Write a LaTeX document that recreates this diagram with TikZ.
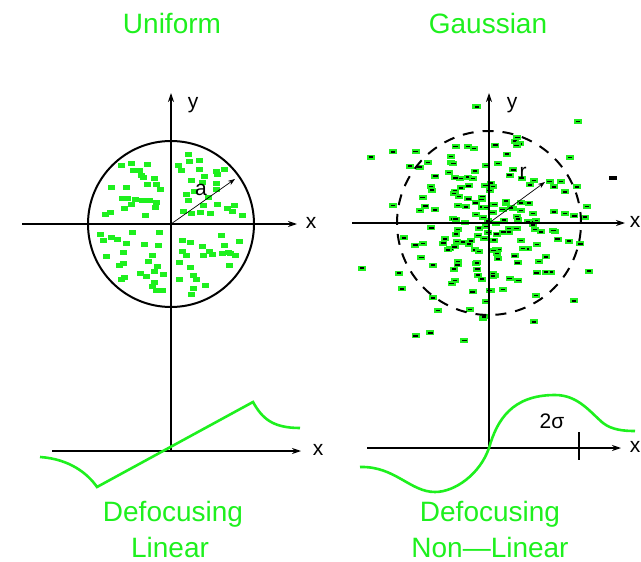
\documentclass[tikz,border=0pt]{standalone}
\usepackage{fontspec}
\setmainfont{Liberation Sans}
\usetikzlibrary{arrows.meta}

\begin{document}
\begin{tikzpicture}[x=1pt, y=-1pt,
    axis/.style={line width=1.1pt, -{Stealth[length=9pt,width=6pt]}},
    radius/.style={line width=0.7pt, -{Stealth[length=7pt,width=5pt]}},
    rim/.style={line width=2pt},
    greencurve/.style={line width=2.6pt, draw=greenColour},
    lbl/.style={font=\fontsize{21}{24}\selectfont},
    ttl/.style={font=\fontsize{28}{32}\selectfont, text=greenColour, anchor=base}]

    \definecolor{greenColour}{HTML}{1EF01E}

    % Fix the page size
    \useasboundingbox (0,0) rectangle (641,562);

    % Define origins
    \coordinate (uo) at (171,224);
    \coordinate (go) at (489,223);

    % Uniform beam particles (kept off the axes)
    \pgfmathsetseed{1234}
    \foreach \i in {1,...,104}{
        \pgfmathsetmacro{\rad}{74*sqrt((\i-0.5)/104)*(0.92+0.08*rnd)}
        \pgfmathsetmacro{\ang}{mod(\i*13.7508,36)*10+40*rnd}
        \pgfmathsetmacro{\dx}{\rad*cos(\ang)}
        \pgfmathsetmacro{\dy}{\rad*sin(\ang)}
        \pgfmathsetmacro{\px}{171+(\dx<0?-1:1)*(7+0.93*abs(\dx))}
        \pgfmathsetmacro{\py}{224+(\dy<0?-1:1)*(7+0.93*abs(\dy))}
        \fill[greenColour] (\px-3.5,\py-2.5) rectangle ++(7,5);
    }

    % Gaussian beam particles
    \pgfmathsetseed{98765}
    \foreach \i in {1,...,185}{
        \pgfmathsetmacro{\rad}{min(135,46*sqrt(-2*ln((\i-0.3)/185))*(0.85+0.3*rnd))}
        \pgfmathsetmacro{\ang}{mod(\i*13.7508,36)*10+60*rnd}
        \pgfmathsetmacro{\px}{489+\rad*cos(\ang)}
        \pgfmathsetmacro{\py}{223+\rad*sin(\ang)}
        \fill[greenColour] (\px-4,\py-2.5) rectangle ++(8,5);
        \fill[black] (\px-2.2,\py-0.8) rectangle ++(4.4,1.6);
    }
    \fill[black] (609,176) rectangle ++(8,4);

    % Draw the beam edges
    \draw[rim] (uo) circle (83pt);
    \draw[rim, dash pattern=on 11pt off 9pt] (go) circle (92pt);

    % Axes of the uniform panel
    \coordinate (uxL) at (22,224);
    \coordinate (uxR) at (297,224);
    \coordinate (uyT) at (171,93);
    \coordinate (lo) at (171,451);
    \coordinate (lxL) at (52,451);
    \coordinate (lxR) at (301,451);
    \draw[axis] (uxL) -- (uxR);
    \draw[axis] (lo) -- (uyT);
    \draw[axis] (lxL) -- (lxR);
    \coordinate (ua) at (235,179);
    \draw[radius] (uo) -- (ua);

    % Axes of the gaussian panel
    \coordinate (gxL) at (352,223);
    \coordinate (gxR) at (625,223);
    \coordinate (gyT) at (489,93);
    \coordinate (no) at (489,448);
    \coordinate (nxL) at (367,448);
    \coordinate (nxR) at (621,448);
    \draw[axis] (gxL) -- (gxR);
    \draw[axis] (no) -- (gyT);
    \draw[axis] (nxL) -- (nxR);
    \coordinate (gr) at (545,182);
    \draw[radius] (go) -- (gr);
    \coordinate (tickT) at (579,432);
    \coordinate (tickB) at (579,460);
    \draw[line width=1.8pt] (tickT) -- (tickB);

    % Axis labels
    \node[lbl] (ux) at (311,223) {x};
    \node[lbl] (uy) at (193,105) {y};
    \node[lbl] (ulabel) at (201,190) {a};
    \node[lbl] (lx) at (318,450) {x};
    \node[lbl] (gx) at (635,222) {x};
    \node[lbl] (gy) at (512,105) {y};
    \node[lbl] (glabel) at (523,173) {r};
    \node[lbl] (nx) at (635,447) {x};
    \node[lbl] (sig) at (552,421) {2σ};

    % Field curves
    \draw[greencurve] (40,457) .. controls (70,459) and (88,474) .. (97,487)
        -- (253,402) .. controls (262,418) and (272,428) .. (300,428);
    \draw[greencurve] (360,467) .. controls (395,466) and (410,492) .. (435,492)
        .. controls (455,492) and (480,474) .. (489,448)
        .. controls (497,420) and (512,395) .. (555,395)
        .. controls (578,395) and (590,412) .. (603,423)
        .. controls (612,430) and (624,431) .. (635,431);

    % Titles
    \node[ttl] (uniform) at (172,33) {Uniform};
    \node[ttl] (gauss) at (488,33) {Gaussian};
    \node[ttl] (ldef) at (173,521) {Defocusing};
    \node[ttl] (llin) at (170,557) {Linear};
    \node[ttl] (ndef) at (490,521) {Defocusing};
    \node[ttl] (nlin) at (490,557) {Non—Linear};
\end{tikzpicture}
\end{document}
